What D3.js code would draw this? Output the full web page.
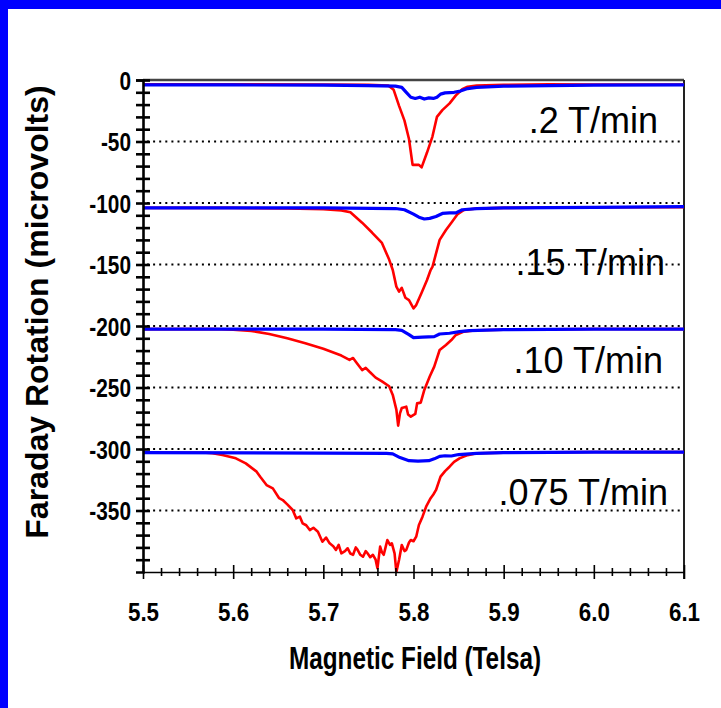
<!DOCTYPE html>
<html>
<head>
<meta charset="utf-8">
<script src="https://cdn.jsdelivr.net/npm/d3@7"></script>
<style>
  body { margin: 0; background: #fff; }
  svg { display: block; font-family: Arial, "Liberation Sans", sans-serif; }
</style>
</head>
<body>
<div id="staticBody"></div>
<script>
// sweep-rate labels, one per trace pair
var rateLabels = [".2 T/min", ".15 T/min", ".10 T/min", ".075 T/min"];

var xMajorTicks = [5.5, 5.6, 5.7, 5.8, 5.9, 6.0, 6.1];
var yMajorTicks = [0, -50, -100, -150, -200, -250, -300, -350];
var dottedLevels = [-50, -100, -150, -200, -250, -300, -350];

// [field (T), rotation (microvolts)]
var red02 = [[5.50,-3.5],[5.60,-3.5],[5.70,-3.8],[5.75,-4],[5.772,-4.5],[5.778,-8],[5.784,-21],
  [5.790,-33],[5.795,-48],[5.799,-69],[5.806,-69],[5.809,-71],[5.815,-59],[5.821,-46],[5.826,-30],
  [5.832,-24.5],[5.840,-19],[5.847,-12.5],[5.854,-7.5],[5.86,-5.5],[5.87,-4.5],[5.90,-4],
  [5.95,-3.5],[6.00,-3.8],[6.10,-3.8]];
var blue02 = [[5.50,-4],[5.60,-4],[5.70,-4.2],[5.75,-4.5],[5.78,-5],[5.787,-6],[5.792,-10],
  [5.797,-14],[5.802,-15],[5.807,-14],[5.812,-15.5],[5.817,-14.5],[5.822,-15],[5.826,-14],
  [5.830,-11.5],[5.835,-10.5],[5.845,-10],[5.852,-9],[5.86,-7],[5.87,-6],[5.90,-5],[5.95,-4.5],
  [6.00,-4.2],[6.10,-4]];

var red15 = [[5.50,-104],[5.60,-104],[5.66,-104.5],[5.70,-105],[5.72,-106],[5.73,-107.5],[5.743,-116],
  [5.754,-124],[5.765,-132.5],[5.773,-146],[5.777,-154.5],[5.781,-168],[5.784,-172],[5.787,-169],
  [5.791,-177],[5.795,-179],[5.800,-185.6],[5.803,-183],[5.809,-173],[5.815,-162.6],[5.819,-154.5],
  [5.821,-152],[5.829,-130],[5.836,-122],[5.843,-115],[5.849,-109],[5.856,-105.7],[5.87,-104.5],
  [5.90,-104],[6.00,-103.5],[6.10,-103.5]];
var blue15 = [[5.50,-104],[5.60,-104],[5.70,-104],[5.78,-104.5],[5.79,-105.5],[5.80,-109],
  [5.806,-111.5],[5.812,-113],[5.818,-112.5],[5.825,-111],[5.832,-108.5],[5.840,-108],[5.847,-108],
  [5.854,-105.5],[5.87,-104.5],[5.90,-104],[6.00,-103.5],[6.10,-103]];

var red10 = [[5.50,-202.5],[5.58,-202.5],[5.60,-203],[5.62,-204],[5.64,-206.5],[5.66,-210],
  [5.68,-214],[5.70,-218.5],[5.72,-224],[5.729,-227.6],[5.733,-226],[5.736,-229],[5.743,-235.8],
  [5.747,-234],[5.751,-237],[5.758,-242],[5.765,-245],[5.773,-249],[5.777,-256],[5.781,-268],
  [5.783,-281],[5.785,-271],[5.787,-266.7],[5.792,-265.6],[5.794,-272],[5.797,-273.7],[5.802,-271.5],
  [5.804,-262.9],[5.808,-262.3],[5.812,-252],[5.818,-241],[5.823,-233],[5.829,-219.5],[5.836,-215.4],
  [5.842,-211.4],[5.847,-207.3],[5.856,-204.6],[5.87,-203.5],[5.90,-203],[6.00,-202.5],[6.10,-202.5]];
var blue10 = [[5.50,-202.5],[5.70,-202.5],[5.78,-203],[5.787,-203.5],[5.795,-207],[5.80,-209.5],
  [5.81,-209],[5.823,-208.6],[5.829,-206.5],[5.84,-205.9],[5.851,-204.6],[5.862,-203.8],[5.90,-203],
  [6.00,-202.5],[6.10,-202.5]];

var red075 = [[5.50,-303],[5.57,-303],[5.577,-303.5],[5.588,-304.9],[5.603,-307.6],[5.614,-311.7],
  [5.626,-318.4],[5.63,-322.5],[5.637,-329.3],[5.644,-332],[5.651,-340],[5.655,-341.5],[5.660,-345],
  [5.666,-349.6],[5.670,-356.4],[5.674,-355],[5.677,-360.4],[5.681,-362],[5.685,-365.9],[5.689,-364],
  [5.694,-367.2],[5.699,-375.4],[5.703,-372],[5.707,-376.7],[5.711,-379],[5.714,-382],[5.717,-378],
  [5.720,-384.8],[5.724,-383],[5.727,-380.7],[5.730,-385],[5.733,-386],[5.736,-380],[5.738,-382],
  [5.741,-386],[5.744,-387.6],[5.747,-383],[5.749,-384.8],[5.752,-388],[5.755,-386],[5.758,-390],
  [5.760,-397],[5.763,-379.4],[5.765,-384],[5.767,-386],[5.769,-380],[5.771,-374],[5.774,-378],
  [5.776,-376.7],[5.779,-384.8],[5.781,-400],[5.784,-390],[5.787,-378],[5.790,-383],[5.792,-382],
  [5.795,-376],[5.797,-374],[5.800,-375],[5.803,-371.3],[5.806,-361.8],[5.810,-355],[5.814,-346.9],
  [5.819,-340],[5.822,-337],[5.825,-333.3],[5.830,-322.5],[5.835,-318],[5.840,-314.4],[5.845,-310.5],
  [5.851,-307.6],[5.86,-305],[5.87,-303.5],[5.90,-303],[6.00,-302.5],[6.10,-302.5]];
var blue075 = [[5.50,-303],[5.70,-303.3],[5.77,-303.5],[5.777,-304],[5.785,-307],[5.795,-309.5],
  [5.805,-309.8],[5.817,-309.5],[5.823,-308],[5.829,-306],[5.835,-305.5],[5.842,-305.7],[5.85,-304.5],
  [5.87,-303.5],[5.90,-303],[6.00,-302.5],[6.10,-302.5]];

var redTraces = [red02, red15, red10, red075];
var blueTraces = [blue02, blue15, blue10, blue075];

// label anchors (right edge x, baseline y) in pixels
var labelPos = [[658, 133], [665, 275], [663, 373], [668, 505]];

var width = 721, height = 708;
var plot = { left: 143, right: 684, top: 80, bottom: 572 };

var svg = d3.select("#staticBody").append("svg")
  .attr("width", width)
  .attr("height", height);

// blue slide frame
svg.append("rect").attr("x", 0).attr("y", 0).attr("width", width).attr("height", 9).attr("fill", "#0000ff");
svg.append("rect").attr("x", 0).attr("y", 0).attr("width", 8).attr("height", height).attr("fill", "#0000ff");

var x = d3.scaleLinear().domain([5.5, 6.1]).range([plot.left, plot.right]);
var y = d3.scaleLinear().domain([-400, 0]).range([plot.bottom, plot.top]);

function condense(sel, k) {
  sel.each(function() {
    var w = this.getComputedTextLength();
    if (w > 0) d3.select(this).attr("textLength", w * k).attr("lengthAdjust", "spacingAndGlyphs");
  });
}

// rate labels (dotted lines run over them)
svg.selectAll(".rateLabel")
  .data(rateLabels)
  .enter()
  .append("text")
  .attr("class", "rateLabel")
  .attr("x", function(d, i) { return labelPos[i][0]; })
  .attr("y", function(d, i) { return labelPos[i][1]; })
  .attr("text-anchor", "end")
  .attr("font-size", "36px")
  .attr("fill", "#000")
  .text(function(d) { return d; });

// dotted reference lines
svg.selectAll(".dotted")
  .data(dottedLevels)
  .enter()
  .append("line")
  .attr("class", "dotted")
  .attr("x1", x(5.5) + 4)
  .attr("x2", x(6.1))
  .attr("y1", function(d) { return y(d); })
  .attr("y2", function(d) { return y(d); })
  .attr("stroke", "#000")
  .attr("stroke-width", 2)
  .attr("stroke-dasharray", "2 4.1");

// top and right frame
svg.append("line")
  .attr("x1", x(5.5)).attr("x2", x(6.1)).attr("y1", y(0)).attr("y2", y(0))
  .attr("stroke", "#444").attr("stroke-width", 2.5);
svg.append("line")
  .attr("x1", x(6.1)).attr("x2", x(6.1)).attr("y1", y(0)).attr("y2", y(-400) + 7)
  .attr("stroke", "#222").attr("stroke-width", 2);

var trace = d3.line()
  .x(function(d) { return x(d[0]); })
  .y(function(d) { return y(d[1]); });

svg.selectAll(".redTrace")
  .data(redTraces)
  .enter()
  .append("path")
  .attr("class", "redTrace")
  .attr("d", trace)
  .attr("fill", "none")
  .attr("stroke", "#ff0000")
  .attr("stroke-width", 2.6)
  .attr("stroke-linejoin", "round");

svg.selectAll(".blueTrace")
  .data(blueTraces)
  .enter()
  .append("path")
  .attr("class", "blueTrace")
  .attr("d", trace)
  .attr("fill", "none")
  .attr("stroke", "#0000ff")
  .attr("stroke-width", 3.2)
  .attr("stroke-linejoin", "round");

// y axis: ticks every 10, labels every 50
var yTicks = d3.range(-390, 1, 10);
var yAxis = svg.append("g")
  .attr("transform", "translate(" + plot.left + ",0)")
  .call(d3.axisLeft(y)
    .tickValues(yTicks)
    .tickSizeOuter(0)
    .tickSize(7)
    .tickFormat(function(d) { return yMajorTicks.indexOf(d) >= 0 ? d : ""; }));
yAxis.select(".domain").attr("stroke", "#000").attr("stroke-width", 2.6);
yAxis.selectAll(".tick line").attr("x1", 7).attr("x2", -7).attr("stroke-width", 2.6);
yAxis.selectAll(".tick text")
  .attr("x", -12)
  .attr("dy", "0.36em")
  .attr("font-size", "26px")
  .attr("font-weight", "bold")
  .attr("font-family", "Arial, 'Liberation Sans', sans-serif")
  .attr("fill", "#000")
  .call(condense, 0.8);

// x axis: ticks every 0.02, labels every 0.1
var xTicks = d3.range(0, 31).map(function(i) { return 5.5 + i * 0.02; });
function isMajor(v) { return Math.abs(v * 10 - Math.round(v * 10)) < 1e-6; }
var xAxis = svg.append("g")
  .attr("transform", "translate(0," + plot.bottom + ")")
  .call(d3.axisBottom(x)
    .tickValues(xTicks)
    .tickSizeOuter(0)
    .tickFormat(function(d) { return isMajor(d) ? d3.format(".1f")(d) : ""; }));
xAxis.select(".domain").attr("stroke", "#000").attr("stroke-width", 1.6);
xAxis.selectAll(".tick line")
  .attr("y1", function(d) { return isMajor(d) ? -7 : -4; })
  .attr("y2", function(d) { return isMajor(d) ? 7 : 4; })
  .attr("stroke-width", 1.6);
xAxis.selectAll(".tick text")
  .attr("y", 49)
  .attr("dy", 0)
  .attr("font-size", "26px")
  .attr("font-weight", "bold")
  .attr("font-family", "Arial, 'Liberation Sans', sans-serif")
  .attr("fill", "#000")
  .call(condense, 0.86);

// axis titles
svg.append("text")
  .attr("x", 415)
  .attr("y", 669)
  .attr("text-anchor", "middle")
  .attr("font-size", "31px")
  .attr("font-weight", "bold")
  .attr("textLength", 252)
  .attr("lengthAdjust", "spacingAndGlyphs")
  .text("Magnetic Field (Telsa)");

svg.append("text")
  .attr("transform", "translate(48,312) rotate(-90)")
  .attr("text-anchor", "middle")
  .attr("font-size", "32px")
  .attr("font-weight", "bold")
  .text("Faraday Rotation (microvolts)");
</script>
</body>
</html>
